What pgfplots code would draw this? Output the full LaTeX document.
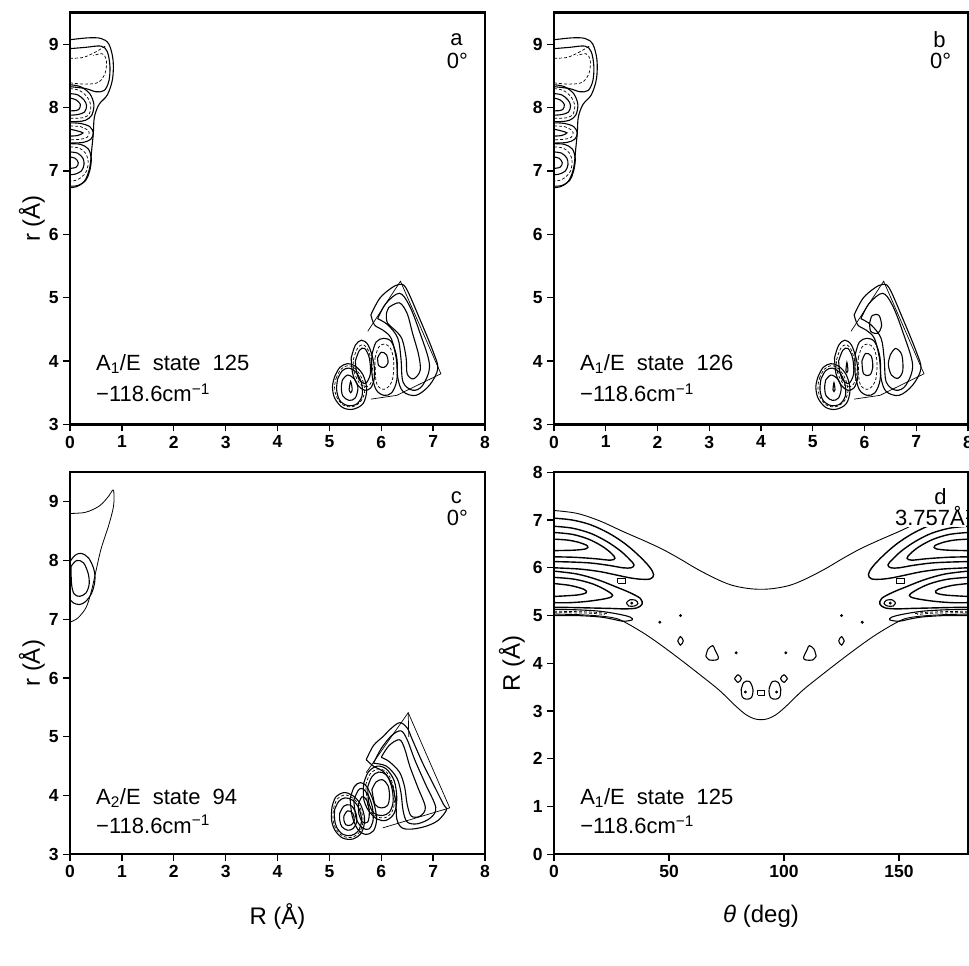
\documentclass[border=0pt]{standalone}
\usepackage{fontspec}
\setmainfont{Liberation Sans}
\usepackage{pgfplots}
\pgfplotsset{compat=1.18}
\pgfplotsset{
  base/.style={
    scale only axis,
    line width=2.2pt,
    axis line style={line width=2.2pt},
    tick style={line width=1.3pt, black},
    major tick length=7pt,
    tick align=outside,
    xtick pos=left, ytick pos=left,
    /pgf/number format/assume math mode=true,
    tick label style={font=\fontsize{17.5}{18}\selectfont\bfseries},
    every axis y label/.style={at={(axis description cs:-0.092,0.5)}, rotate=90, anchor=center, font=\fontsize{24}{24}\selectfont},
    every axis x label/.style={at={(axis description cs:0.5,-0.163)}, anchor=center, font=\fontsize{24}{24}\selectfont},
  },
  c/.style={smooth, tension=0.55, line width=1.1pt, black, mark=none},
  cd/.style={smooth, tension=0.55, line width=0.7pt, black, densely dashed, mark=none},
  ct/.style={sharp plot, line width=0.7pt, black, mark=none},
}
\newcommand{\txt}{\fontsize{22}{22}\selectfont}
\newcommand{\ws}{\hspace{0.55em}}
% top-left group of panels a and b
\newcommand{\TL}{%
\addplot[c] coordinates {(0,9.07)(0.35,9.1)(0.6,9.09)(0.75,9.0)(0.83,8.75)(0.82,8.45)(0.72,8.2)(0.56,8.05)(0.47,7.85)(0.45,7.6)(0.42,7.35)(0.38,7.05)(0.28,6.84)(0.12,6.75)(0,6.74)};
\addplot[c] coordinates {(0,8.93)(0.3,8.95)(0.6,8.97)(0.72,8.88)(0.77,8.65)(0.75,8.42)(0.66,8.27)(0.5,8.25)(0.3,8.3)(0,8.33)};
\addplot[cd] coordinates {(0,8.78)(0.25,8.79)(0.5,8.88)(0.7,8.98)};
\addplot[cd] coordinates {(0,8.39)(0.3,8.37)(0.55,8.4)(0.68,8.55)(0.7,8.75)(0.62,8.85)(0.45,8.82)};
\addplot[c] coordinates {(0,8.36)(0.2,8.33)(0.38,8.22)(0.46,8.05)(0.42,7.88)(0.3,7.8)(0.15,7.78)(0,7.78)};
\addplot[cd] coordinates {(0,8.3)(0.18,8.27)(0.33,8.17)(0.4,8.04)(0.37,7.9)(0.25,7.84)(0,7.83)};
\addplot[c] coordinates {(0,8.22)(0.15,8.2)(0.27,8.12)(0.32,8.03)(0.28,7.93)(0.15,7.89)(0,7.88)};
\addplot[c] coordinates {(0,8.15)(0.12,8.12)(0.2,8.05)(0.17,7.97)(0.08,7.95)(0,7.95)};
\addplot[c] coordinates {(0,7.76)(0.2,7.75)(0.38,7.7)(0.45,7.6)(0.4,7.5)(0.25,7.45)(0,7.44)};
\addplot[cd] coordinates {(0,7.71)(0.2,7.7)(0.33,7.65)(0.37,7.6)(0.33,7.53)(0.2,7.5)(0,7.49)};
\addplot[c] coordinates {(0,7.66)(0.15,7.63)(0.25,7.6)(0.15,7.56)(0,7.55)};
\addplot[c] coordinates {(0,7.43)(0.2,7.42)(0.35,7.35)(0.41,7.2)(0.38,7.0)(0.3,6.85)(0.15,6.77)(0,6.76)};
\addplot[cd] coordinates {(0,7.38)(0.18,7.36)(0.3,7.28)(0.35,7.15)(0.32,7.0)(0.22,6.9)(0.1,6.85)(0,6.84)};
\addplot[c] coordinates {(0,7.3)(0.15,7.28)(0.25,7.2)(0.27,7.1)(0.22,7.0)(0.1,6.95)(0,6.94)};
\addplot[c] coordinates {(0,7.22)(0.1,7.2)(0.16,7.13)(0.12,7.06)(0,7.04)};
}
% bottom-right group shared parts (panels a, b)
\newcommand{\BR}{%
\addplot[ct] coordinates {(5.74,4.47)(6.37,5.26)(7.15,3.8)(6.3,3.46)(5.8,3.4)};
\addplot[c] coordinates {(5.8,4.73)(5.97,4.99)(6.19,5.15)(6.35,5.21)(6.48,5.15)(6.74,4.67)(7.0,4.15)(7.09,3.88)(6.93,3.62)(6.67,3.46)(6.42,3.52)(6.32,3.73)(6.29,4.04)(6.19,4.36)(6.03,4.49)(5.87,4.57)(5.8,4.73)};
\addplot[c] coordinates {(5.93,4.67)(6.09,4.91)(6.35,5.07)(6.54,4.88)(6.74,4.46)(6.93,3.94)(6.8,3.62)(6.61,3.54)(6.42,3.67)(6.38,4.04)(6.32,4.36)(6.13,4.57)(5.93,4.67)};
\addplot[c] coordinates {(5.82,4.1)(5.9,4.3)(6.05,4.36)(6.2,4.3)(6.3,4.05)(6.3,3.7)(6.2,3.5)(6.05,3.46)(5.9,3.55)(5.82,3.8)(5.82,4.1)};
\addplot[cd] coordinates {(5.88,4.05)(5.95,4.22)(6.06,4.27)(6.18,4.2)(6.24,4.0)(6.22,3.72)(6.12,3.58)(6.0,3.56)(5.9,3.68)(5.88,4.05)};
\addplot[c] coordinates {(5.42,4.05)(5.5,4.25)(5.62,4.33)(5.75,4.25)(5.85,4.0)(5.87,3.75)(5.8,3.58)(5.68,3.54)(5.55,3.62)(5.45,3.8)(5.42,4.05)};
\addplot[c] coordinates {(5.5,4.0)(5.58,4.17)(5.68,4.2)(5.77,4.05)(5.79,3.8)(5.7,3.65)(5.58,3.7)(5.52,3.85)(5.5,4.0)};
\addplot[cd] coordinates {(5.46,4.02)(5.54,4.2)(5.65,4.26)(5.76,4.15)(5.83,3.9)(5.83,3.7)(5.73,3.6)(5.6,3.63)(5.48,3.82)(5.46,4.02)};
\addplot[c] coordinates {(5.1,3.75)(5.2,3.9)(5.35,3.96)(5.5,3.92)(5.65,3.78)(5.72,3.55)(5.65,3.33)(5.45,3.24)(5.25,3.27)(5.1,3.42)(5.06,3.6)(5.1,3.75)};
\addplot[cd] coordinates {(5.13,3.73)(5.22,3.87)(5.36,3.93)(5.5,3.88)(5.63,3.72)(5.68,3.52)(5.6,3.36)(5.44,3.28)(5.26,3.31)(5.13,3.45)(5.1,3.6)(5.13,3.73)};
\addplot[c] coordinates {(5.16,3.72)(5.25,3.85)(5.38,3.89)(5.52,3.82)(5.62,3.65)(5.63,3.45)(5.52,3.32)(5.35,3.3)(5.2,3.38)(5.14,3.55)(5.16,3.72)};
\addplot[c] coordinates {(5.25,3.7)(5.35,3.78)(5.48,3.72)(5.55,3.58)(5.5,3.42)(5.38,3.38)(5.26,3.45)(5.23,3.58)(5.25,3.7)};
}
\begin{document}
\begin{tikzpicture}
% ---------------- panel a
\begin{axis}[base, at={(70pt,-12.5pt)}, anchor=north west, width=415pt, height=412pt,
  xmin=0, xmax=8, ymin=3, ymax=9.5, xtick={0,...,8}, ytick={3,...,9},
  ylabel={r (Å)}]
\TL
\BR
\addplot[c] coordinates {(6.15,4.85)(6.35,4.92)(6.5,4.75)(6.6,4.45)(6.72,4.1)(6.75,3.85)(6.62,3.72)(6.5,3.8)(6.48,4.05)(6.4,4.35)(6.25,4.5)(6.12,4.6)(6.1,4.75)(6.15,4.85)};
\addplot[c] coordinates {(5.93,4.05)(6.0,4.14)(6.1,4.1)(6.13,3.97)(6.05,3.9)(5.95,3.93)(5.93,4.05)};
\addplot[c] coordinates {(5.38,3.55)(5.41,3.68)(5.44,3.55)(5.41,3.5)(5.38,3.55)};
\node[font=\txt] at (axis cs:7.45,9.07) {a};
\node[font=\txt] at (axis cs:7.47,8.73) {0°};
\node[font=\txt, anchor=west] at (axis cs:0.42,3.95) {A\textsubscript{1}/E\ws state\ws 125};
\node[font=\txt, anchor=west] at (axis cs:0.42,3.5) {−118.6cm\textsuperscript{−1}};
\end{axis}
% ---------------- panel b
\begin{axis}[base, at={(554pt,-12.5pt)}, anchor=north west, width=414pt, height=412pt,
  xmin=0, xmax=8, ymin=3, ymax=9.5, xtick={0,...,8}, ytick={3,...,9}]
\TL
\BR
\addplot[c] coordinates {(6.1,4.6)(6.15,4.72)(6.28,4.72)(6.33,4.55)(6.25,4.44)(6.12,4.47)(6.1,4.6)};
\addplot[c] coordinates {(6.5,4.1)(6.6,4.2)(6.72,4.1)(6.74,3.85)(6.65,3.73)(6.52,3.78)(6.46,3.95)(6.5,4.1)};
\addplot[c] coordinates {(5.95,4.0)(6.02,4.12)(6.13,4.08)(6.16,3.9)(6.1,3.78)(5.98,3.8)(5.95,4.0)};
\addplot[c] coordinates {(5.64,3.85)(5.66,3.98)(5.68,3.85)(5.66,3.82)(5.64,3.85)};
\addplot[c] coordinates {(5.39,3.55)(5.41,3.66)(5.43,3.55)(5.41,3.52)(5.39,3.55)};
\node[font=\txt] at (axis cs:7.45,9.07) {b};
\node[font=\txt] at (axis cs:7.47,8.73) {0°};
\node[font=\txt, anchor=west] at (axis cs:0.42,3.95) {A\textsubscript{1}/E\ws state\ws 126};
\node[font=\txt, anchor=west] at (axis cs:0.42,3.5) {−118.6cm\textsuperscript{−1}};
\end{axis}
% ---------------- panel c
\begin{axis}[base, at={(70pt,-472.3pt)}, anchor=north west, width=415pt, height=382pt,
  xmin=0, xmax=8, ymin=3, ymax=9.5, xtick={0,...,8}, ytick={3,...,9},
  ylabel={r (Å)}, xlabel={R (Å)}]
\addplot[c, line width=0.8pt] coordinates {(0,8.8)(0.3,8.82)(0.57,8.93)(0.75,9.1)(0.83,9.2)(0.85,9.08)(0.83,8.88)(0.74,8.58)(0.6,8.2)(0.5,7.82)(0.41,7.47)(0.31,7.2)(0.15,7.02)(0,6.95)};
\addplot[c] coordinates {(0,7.98)(0.1,8.09)(0.22,8.12)(0.36,8.04)(0.46,7.85)(0.48,7.66)(0.42,7.45)(0.3,7.3)(0.18,7.25)(0.06,7.28)(0,7.34)};
\addplot[c] coordinates {(0.02,7.9)(0.13,8.0)(0.26,7.96)(0.35,7.78)(0.37,7.6)(0.31,7.45)(0.19,7.39)(0.08,7.43)(0.03,7.6)(0.02,7.9)};
\addplot[ct] coordinates {(5.71,4.39)(6.52,5.41)(7.32,3.79)(6.03,3.45)};
\addplot[ct] coordinates {(6.52,5.41)(6.53,5.0)};
\addplot[c] coordinates {(5.71,4.61)(5.85,4.85)(6.03,5.0)(6.2,5.15)(6.36,5.24)(6.5,5.15)(6.6,4.95)(6.8,4.55)(7.0,4.2)(7.2,3.85)(7.26,3.76)(7.1,3.58)(6.87,3.48)(6.6,3.43)(6.4,3.45)(6.3,3.6)(6.28,3.9)(6.2,4.2)(6.05,4.4)(5.85,4.5)(5.71,4.61)};
\addplot[c] coordinates {(5.85,4.55)(6.0,4.8)(6.2,5.02)(6.38,5.1)(6.5,4.95)(6.65,4.6)(6.85,4.2)(7.05,3.8)(6.95,3.62)(6.7,3.52)(6.5,3.55)(6.42,3.75)(6.38,4.05)(6.3,4.3)(6.1,4.5)(5.85,4.55)};
\addplot[c] coordinates {(6.0,4.65)(6.15,4.85)(6.35,4.95)(6.45,4.8)(6.55,4.5)(6.7,4.15)(6.85,3.8)(6.75,3.65)(6.58,3.65)(6.5,3.85)(6.45,4.15)(6.35,4.4)(6.15,4.58)(6.0,4.65)};
\addplot[c] coordinates {(5.66,4.2)(5.75,4.4)(5.92,4.5)(6.1,4.45)(6.25,4.25)(6.3,3.95)(6.25,3.7)(6.1,3.58)(5.92,3.6)(5.75,3.75)(5.66,3.95)(5.66,4.2)};
\addplot[cd] coordinates {(5.7,4.18)(5.78,4.36)(5.93,4.45)(6.1,4.4)(6.22,4.2)(6.26,3.92)(6.2,3.71)(6.06,3.62)(5.9,3.65)(5.75,3.8)(5.7,4.18)};
\addplot[c] coordinates {(5.74,4.15)(5.82,4.32)(5.95,4.4)(6.1,4.35)(6.2,4.15)(6.23,3.9)(6.16,3.72)(6.02,3.66)(5.86,3.7)(5.76,3.88)(5.74,4.15)};
\addplot[c] coordinates {(5.82,4.1)(5.9,4.23)(6.02,4.27)(6.13,4.17)(6.16,3.98)(6.12,3.83)(6.0,3.79)(5.88,3.85)(5.82,4.1)};
\addplot[c] coordinates {(5.4,3.95)(5.48,4.15)(5.6,4.22)(5.72,4.15)(5.85,3.9)(5.91,3.6)(5.85,3.4)(5.7,3.34)(5.55,3.42)(5.44,3.65)(5.4,3.95)};
\addplot[c] coordinates {(5.47,3.92)(5.55,4.08)(5.63,4.12)(5.74,4.02)(5.83,3.8)(5.84,3.56)(5.76,3.43)(5.64,3.45)(5.52,3.6)(5.47,3.92)};
\addplot[c] coordinates {(5.56,3.85)(5.63,3.98)(5.72,3.92)(5.77,3.72)(5.74,3.55)(5.64,3.55)(5.57,3.68)(5.56,3.85)};
\addplot[c] coordinates {(5.05,3.8)(5.12,3.97)(5.28,4.05)(5.45,4.0)(5.6,3.85)(5.68,3.6)(5.62,3.37)(5.45,3.26)(5.25,3.28)(5.1,3.42)(5.04,3.6)(5.05,3.8)};
\addplot[cd] coordinates {(5.08,3.78)(5.15,3.94)(5.29,4.01)(5.45,3.96)(5.58,3.82)(5.65,3.59)(5.59,3.39)(5.44,3.29)(5.26,3.31)(5.12,3.44)(5.07,3.6)(5.08,3.78)};
\addplot[c] coordinates {(5.1,3.76)(5.18,3.9)(5.3,3.96)(5.45,3.92)(5.57,3.78)(5.62,3.58)(5.56,3.4)(5.42,3.32)(5.26,3.34)(5.14,3.46)(5.1,3.6)(5.1,3.76)};
\addplot[c] coordinates {(5.2,3.7)(5.28,3.82)(5.4,3.84)(5.5,3.73)(5.53,3.56)(5.46,3.44)(5.35,3.41)(5.24,3.47)(5.2,3.58)(5.2,3.7)};
\addplot[c] coordinates {(5.28,3.65)(5.35,3.74)(5.45,3.7)(5.48,3.58)(5.42,3.5)(5.32,3.5)(5.28,3.58)(5.28,3.65)};
\node[font=\txt] at (axis cs:7.45,9.07) {c};
\node[font=\txt] at (axis cs:7.47,8.73) {0°};
\node[font=\txt, anchor=west] at (axis cs:0.42,3.96) {A\textsubscript{2}/E\ws state\ws 94};
\node[font=\txt, anchor=west] at (axis cs:0.42,3.51) {−118.6cm\textsuperscript{−1}};
\end{axis}
% ---------------- panel d
\begin{axis}[base, at={(554pt,-472.3pt)}, anchor=north west, width=414pt, height=382pt,
  xmin=0, xmax=180, ymin=0, ymax=8, xtick={0,50,100,150}, ytick={0,...,8},
  every axis y label/.style={at={(axis description cs:-0.102,0.5)}, rotate=90, anchor=center, font=\fontsize{24}{24}\selectfont},
  ylabel={R (Å)}, xlabel={{\itshape θ} (deg)}]
% boundaries
\addplot[c, line width=0.9pt] coordinates {(0,7.2)(10,7.14)(20,6.98)(30,6.76)(40,6.55)(47.5,6.38)(55,6.18)(62,5.98)(70,5.78)(77,5.64)(84,5.57)(90,5.55)(96,5.57)(103,5.64)(110,5.78)(118,5.98)(125,6.18)(132.5,6.38)(140,6.55)(150,6.76)(160,6.98)(170,7.14)(180,7.2)};
\addplot[c, line width=0.9pt] coordinates {(0,5.03)(10,5.02)(20,4.99)(27,4.94)(32,4.83)(40,4.6)(48,4.33)(56,4.04)(64,3.74)(72,3.43)(78,3.15)(83,2.94)(87,2.84)(90,2.82)(93,2.84)(97,2.94)(102,3.15)(108,3.43)(116,3.74)(124,4.04)(132,4.33)(140,4.6)(148,4.83)(153,4.94)(160,4.99)(170,5.02)(180,5.03)};
% left stack
\addplot[c, line width=1.4pt] coordinates {(0,7.04)(8,7.0)(16,6.9)(24,6.72)(31,6.5)(37,6.25)(41.5,6.02)(43.3,5.86)(42,5.77)(38,5.76)(33,5.79)(27,5.85)(20,5.92)(12,5.97)(5,5.99)(0,6.0)};
\addplot[c, line width=1.4pt] coordinates {(0,6.87)(8,6.83)(16,6.72)(23,6.55)(29,6.35)(33,6.17)(34.8,6.06)(33.5,6.0)(30,6.0)(24,6.05)(16,6.1)(8,6.12)(0,6.13)};
\addplot[c, line width=1.4pt] coordinates {(0,6.74)(8,6.7)(15,6.6)(21,6.45)(25,6.3)(26.5,6.2)(24.5,6.16)(18,6.19)(9,6.22)(0,6.23)};
\addplot[c, line width=1.4pt] coordinates {(0,6.6)(6,6.58)(11,6.53)(14.5,6.46)(14,6.4)(9,6.37)(0,6.36)};
\addplot[ct, line width=1.1pt] coordinates {(27.8,5.68)(31.2,5.68)(31.2,5.77)(27.8,5.77)(27.8,5.68)};
\addplot[c, line width=1.4pt] coordinates {(0,5.93)(10,5.87)(19,5.75)(27,5.6)(33,5.48)(37.5,5.36)(38.3,5.24)(36,5.16)(31,5.14)(24,5.15)(15,5.16)(6,5.17)(0,5.17)};
\addplot[c] coordinates {(31.5,5.27)(33,5.33)(35.5,5.32)(36.5,5.25)(35,5.2)(32.5,5.2)(31.5,5.27)};
\addplot[c, line width=1.4pt] coordinates {(0,5.8)(9,5.76)(17,5.66)(23,5.52)(25.5,5.42)(23,5.36)(15,5.3)(7,5.27)(0,5.27)};
\addplot[c, line width=1.4pt] coordinates {(0,5.67)(7,5.63)(13,5.55)(14,5.48)(10,5.43)(0,5.4)};
\addplot[c] coordinates {(0,5.13)(10,5.12)(20,5.09)(28,5.03)(33,4.97)(34,4.91)(30,4.88)(26,4.92)(20,4.97)(10,5.0)(0,5.0)};
\addplot[cd] coordinates {(0,5.09)(12,5.08)(20,5.06)(24,5.03)};
\addplot[cd] coordinates {(0,5.06)(15,5.05)(22,5.02)};
% right stack (mirror)
\addplot[c, line width=1.4pt] coordinates {(180,7.04)(172,7.0)(164,6.9)(156,6.72)(149,6.5)(143,6.25)(138.5,6.02)(136.7,5.86)(138,5.77)(142,5.76)(147,5.79)(153,5.85)(160,5.92)(168,5.97)(175,5.99)(180,6.0)};
\addplot[c, line width=1.4pt] coordinates {(180,6.87)(172,6.83)(164,6.72)(157,6.55)(151,6.35)(147,6.17)(145.2,6.06)(146.5,6.0)(150,6.0)(156,6.05)(164,6.1)(172,6.12)(180,6.13)};
\addplot[c, line width=1.4pt] coordinates {(180,6.74)(172,6.7)(165,6.6)(159,6.45)(155,6.3)(153.5,6.2)(155.5,6.16)(162,6.19)(171,6.22)(180,6.23)};
\addplot[c, line width=1.4pt] coordinates {(180,6.6)(174,6.58)(169,6.53)(165.5,6.46)(166,6.4)(171,6.37)(180,6.36)};
\addplot[ct, line width=1.1pt] coordinates {(148.8,5.68)(152.2,5.68)(152.2,5.77)(148.8,5.77)(148.8,5.68)};
\addplot[c, line width=1.4pt] coordinates {(180,5.93)(170,5.87)(161,5.75)(153,5.6)(147,5.48)(142.5,5.36)(141.7,5.24)(144,5.16)(149,5.14)(156,5.15)(165,5.16)(174,5.17)(180,5.17)};
\addplot[c] coordinates {(148.5,5.27)(147,5.33)(144.5,5.32)(143.5,5.25)(145,5.2)(147.5,5.2)(148.5,5.27)};
\addplot[c, line width=1.4pt] coordinates {(180,5.8)(171,5.76)(163,5.66)(157,5.52)(154.5,5.42)(157,5.36)(165,5.3)(173,5.27)(180,5.27)};
\addplot[c, line width=1.4pt] coordinates {(180,5.67)(173,5.63)(167,5.55)(166,5.48)(170,5.43)(180,5.4)};
\addplot[c] coordinates {(180,5.13)(170,5.12)(160,5.09)(152,5.03)(147,4.97)(146,4.91)(150,4.88)(154,4.92)(160,4.97)(170,5.0)(180,5.0)};
\addplot[cd] coordinates {(180,5.09)(168,5.08)(160,5.06)(156,5.03)};
\addplot[cd] coordinates {(180,5.06)(165,5.05)(158,5.02)};
% central small features
\addplot[c] coordinates {(53.8,4.47)(55,4.56)(56.2,4.47)(55,4.38)(53.8,4.47)};
\addplot[c] coordinates {(126.2,4.47)(125,4.56)(123.8,4.47)(125,4.38)(126.2,4.47)};
\addplot[c] coordinates {(66,4.15)(67,4.3)(69,4.37)(70,4.28)(71.5,4.12)(70.5,4.07)(67.5,4.07)(66,4.15)};
\addplot[c] coordinates {(114,4.15)(113,4.3)(111,4.37)(110,4.28)(108.5,4.12)(109.5,4.07)(112.5,4.07)(114,4.15)};
\addplot[c] coordinates {(78.5,3.68)(80,3.76)(81.5,3.68)(80,3.6)(78.5,3.68)};
\addplot[c] coordinates {(101.5,3.68)(100,3.76)(98.5,3.68)(100,3.6)(101.5,3.68)};
\addplot[c] coordinates {(81.4,3.45)(82.5,3.6)(85,3.62)(86.5,3.45)(85.8,3.28)(83.5,3.25)(81.8,3.3)(81.4,3.45)};
\addplot[c] coordinates {(98.6,3.45)(97.5,3.6)(95,3.62)(93.5,3.45)(94.2,3.28)(96.5,3.25)(98.2,3.3)(98.6,3.45)};
\addplot[ct, line width=1.1pt] coordinates {(88.5,3.33)(91.5,3.33)(91.5,3.43)(88.5,3.43)(88.5,3.33)};
\addplot[only marks, mark=*, mark size=1.2pt, line width=0.5pt, black] coordinates {(46,4.86)(134,4.86)(55,5.0)(125,5.0)(79.2,4.22)(100.8,4.22)(83.2,3.4)(96.8,3.4)(33.8,5.26)(146.2,5.26)};
\node[font=\txt] at (axis cs:168,7.5) {d};
\node[font=\txt, anchor=east, fill=white, inner sep=1pt] at (axis cs:179.5,7.08) {3.757Å};
\node[font=\txt, anchor=west] at (axis cs:9.5,1.18) {A\textsubscript{1}/E\ws state\ws 125};
\node[font=\txt, anchor=west] at (axis cs:9.5,0.62) {−118.6cm\textsuperscript{−1}};
\end{axis}
\pgfresetboundingbox
\useasboundingbox (0,0) rectangle (969pt,-966pt);
\end{tikzpicture}
\end{document}
